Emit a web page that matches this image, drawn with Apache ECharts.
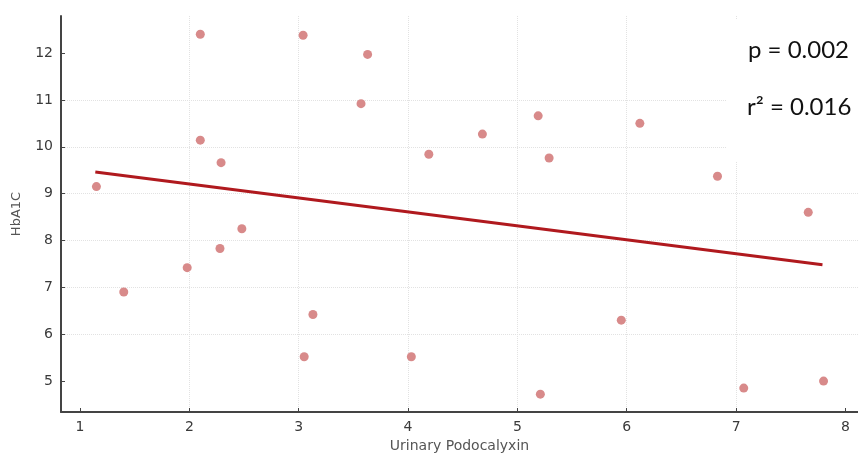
<!DOCTYPE html>
<html>
<head>
<meta charset="utf-8">
<script src="https://cdn.jsdelivr.net/npm/echarts@6/dist/echarts.min.js"></script>
<style>
  html, body { margin: 0; padding: 0; background: #fff; }
  #chart { width: 858px; height: 459px; }
</style>
</head>
<body>
<div id="chart"></div>
<script>
// scatter points
var podocalyxin = [1.15, 1.40, 1.98, 2.10, 2.10, 2.29, 2.28, 2.48, 3.04, 3.05, 3.13, 3.57, 3.63,
                   4.03, 4.19, 4.68, 5.19, 5.29, 5.21, 5.95, 6.12, 6.83, 7.07, 7.66, 7.80]
var hba1c = [9.15, 6.90, 7.42, 12.40, 10.14, 9.66, 7.83, 8.25, 12.38, 5.52, 6.42, 10.92, 11.97,
             5.52, 9.84, 10.27, 10.66, 9.76, 4.72, 6.30, 10.50, 9.37, 4.85, 8.60, 5.00]

// regression line ends
var fitX = [1.14, 7.79]
var fitY = [9.46, 7.48]

var xTicks = [1, 2, 3, 4, 5, 6, 7, 8]
var yTicks = [5, 6, 7, 8, 9, 10, 11, 12]
var statLabels = ['p = 0.002', 'r\u00b2 = 0.016']

var chart = echarts.init(document.getElementById('chart'))

var points = podocalyxin.map(function (x, i) { return [x, hba1c[i]] })
var fitLine = fitX.map(function (x, i) { return [x, fitY[i]] })

var axisFont = { fontFamily: 'DejaVu Sans', fontSize: 14, color: '#3a3a3a' }

function makeAxis(ticks, extra) {
    return Object.assign({
        type: 'value',
        nameLocation: 'middle',
        axisLine: { show: true, lineStyle: { color: '#444', width: 2 } },
        axisTick: { show: true, inside: true, length: 4, customValues: ticks, lineStyle: { color: '#444' } },
        axisLabel: Object.assign({ customValues: ticks, margin: 8 }, axisFont),
        splitLine: { show: true, showMinLine: false, showMaxLine: false, lineStyle: { color: '#e2e2e2', type: 'dotted' } }
    }, extra)
}

var option = {
    animation: false,
    backgroundColor: '#fff',
    grid: { left: 61, right: 0, top: 16, bottom: 47 },
    xAxis: makeAxis(xTicks, {
        min: 0.826,
        max: 8.115,
        name: 'Urinary Podocalyxin',
        nameGap: 26,
        nameTextStyle: { fontFamily: 'DejaVu Sans', fontSize: 14, color: '#555' }
    }),
    yAxis: makeAxis(yTicks, {
        min: 4.34,
        max: 12.79,
        name: 'HbA1C',
        nameGap: 38,
        nameTextStyle: { fontFamily: 'DejaVu Sans', fontSize: 13, color: '#555' }
    }),
    graphic: [
        { type: 'rect', left: 726, top: 20, z: 1, shape: { width: 132, height: 142 }, style: { fill: '#fff' } },
        { type: 'text', x: 748, y: 50, z: 2, style: { text: statLabels[0], font: '24px Lato', fill: '#111', verticalAlign: 'middle' } },
        { type: 'text', x: 747, y: 107, z: 2, style: { text: statLabels[1], font: '24px Lato', fill: '#111', verticalAlign: 'middle' } }
    ],
    series: [
        {
            type: 'scatter',
            data: points,
            symbolSize: 9,
            itemStyle: { color: '#d88a8a', opacity: 1 },
            z: 3
        },
        {
            type: 'line',
            data: fitLine,
            showSymbol: false,
            lineStyle: { color: '#b0191e', width: 3 },
            z: 4
        }
    ]
}
chart.setOption(option)
</script>
</body>
</html>
